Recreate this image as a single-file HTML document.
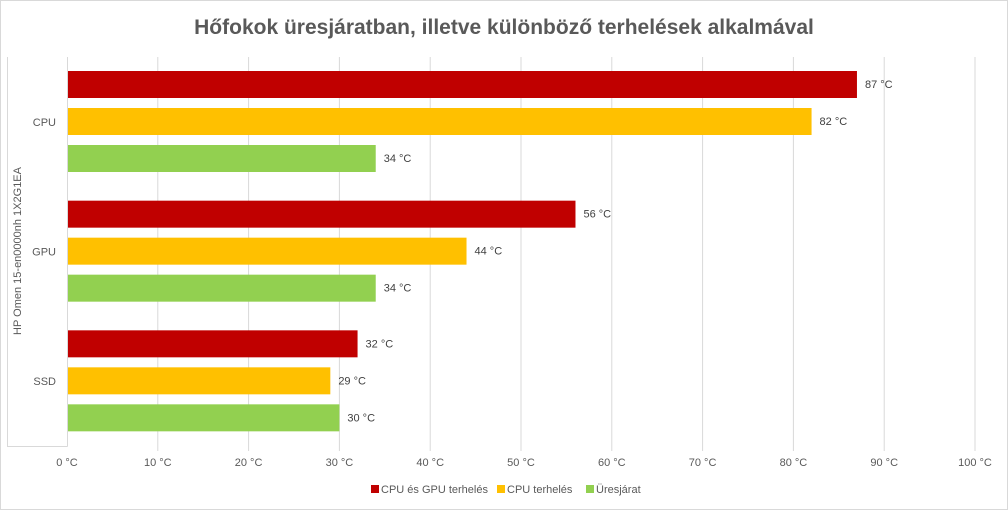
<!DOCTYPE html>
<html><head><meta charset="utf-8"><style>
body{margin:0;background:#fff;font-family:"Liberation Sans","DejaVu Sans",sans-serif;}
svg text{font-family:"Liberation Sans","DejaVu Sans",sans-serif;}
</style></head><body>
<svg id="c" width="1008" height="510" xmlns="http://www.w3.org/2000/svg">
<rect x="0.5" y="0.5" width="1007" height="509" fill="#fff" stroke="#d9d9d9"/>
<text x="504" y="34" text-anchor="middle" font-size="21" font-weight="bold" fill="#595959">Hőfokok üresjáratban, illetve különböző terhelések alkalmával</text>
<g id="grid"></g>
<g id="bars"></g>
<g id="labels"></g>
<text transform="translate(21,251) rotate(-90)" text-anchor="middle" font-size="11" fill="#595959">HP Omen 15-en0000nh 1X2G1EA</text>
<g>
<rect x="371" y="485" width="8" height="8" fill="#c00000"/>
<text x="381" y="493" font-size="11" fill="#595959">CPU és GPU terhelés</text>
<rect x="497" y="485" width="8" height="8" fill="#ffc000"/>
<text x="507" y="493" font-size="11" fill="#595959">CPU terhelés</text>
<rect x="586" y="485" width="8" height="8" fill="#92d050"/>
<text x="596" y="493" font-size="11" fill="#595959">Üresjárat</text>
</g>
</svg>
<script>
const categories = ["CPU","GPU","SSD"];
const seriesNames = ["CPU és GPU terhelés","CPU terhelés","Üresjárat"];
const loadBoth = [87,56,32];
const loadCpu = [82,44,29];
const idle = [34,34,30];
const ticks = [0,10,20,30,40,50,60,70,80,90,100];
const colors = ["#c00000","#ffc000","#92d050"];
const NS="http://www.w3.org/2000/svg";
const x0=67,x1=975,yTop=57,yBot=446;
const xs=v=>x0+(v/100)*(x1-x0);
const groupH=(yBot-yTop)/categories.length;
function mk(tag,attrs,parent){const e=document.createElementNS(NS,tag);for(const k in attrs)e.setAttribute(k,attrs[k]);parent.appendChild(e);return e;}
const grid=document.getElementById('grid'),bars=document.getElementById('bars'),labels=document.getElementById('labels');
ticks.forEach(t=>{
  const x=xs(t);
  if(t>0){const l=mk('line',{x1:x,x2:x,y1:yTop,y2:yBot+5,stroke:'#d9d9d9'},grid);
  
  }
  const tx=mk('text',{x:x,y:466,'text-anchor':'middle','font-size':'11',fill:'#595959'},grid);
  tx.textContent=t+' °C';
  
  
});
const ax=mk('path',{d:`M7.5 ${yTop} V${yBot+0.5} H${x0+0.5} M${x0+0.5} ${yTop} V${yBot+0.5}`,fill:'none',stroke:'#d9d9d9'},grid);


const series=[loadBoth,loadCpu,idle];
categories.forEach((c,i)=>{
  const gy=yTop+i*groupH;
  const ct=mk('text',{x:56,y:gy+groupH/2+4,'text-anchor':'end','font-size':'11',fill:'#595959'},labels);
  ct.textContent=c;
  
  
  series.forEach((s,j)=>{
    const y=gy+14+j*37;
    const r=mk('rect',{x:x0+1,y:y,width:xs(s[i])-x0-1,height:27,fill:colors[j]},bars);
    
    
    const t=mk('text',{x:xs(s[i])+8,y:y+17,'font-size':'11',fill:'#404040'},labels);
    t.textContent=s[i]+' °C';
    
    
  });
});
</script>
</body></html>
